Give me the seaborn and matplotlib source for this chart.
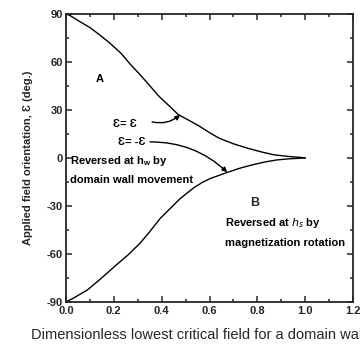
import numpy as np
import pandas as pd
import matplotlib
matplotlib.use("Agg")
import matplotlib.pyplot as plt
import seaborn as sns
from matplotlib.ticker import MultipleLocator, FormatStrFormatter

# upper branch (eps = eps_c)
upper_h = [0.0, 0.017, 0.06, 0.10, 0.14, 0.184, 0.23, 0.268, 0.31, 0.351, 0.39, 0.435,
           0.47, 0.52, 0.56, 0.60, 0.64, 0.70, 0.76, 0.82, 0.87, 0.93, 0.98, 1.0]
upper_e = [90, 89, 85, 81.5, 77, 71.7, 65.4, 58.7, 52, 45, 38.3, 32,
           27, 23, 19.6, 15.8, 12.3, 8.8, 6, 3.6, 1.9, 0.9, 0.3, 0]
# lower branch (eps = -eps_c)
lower_h = [0.0, 0.031, 0.09, 0.142, 0.21, 0.26, 0.31, 0.351, 0.393, 0.44, 0.477,
           0.533, 0.57, 0.603, 0.672, 0.728, 0.78, 0.83, 0.88, 0.93, 0.98, 1.0]
lower_e = [-90, -87.7, -82.5, -76, -67, -60.6, -53.3, -46, -38, -31, -25.5,
           -18.8, -15.3, -12.9, -9.2, -6.4, -4.3, -2.6, -1.3, -0.6, -0.2, 0]

sns.set_style("ticks")
plt.rcParams['font.family'] = ['Liberation Sans', 'DejaVu Sans']
plt.rcParams['axes.unicode_minus'] = False

fig = plt.figure(figsize=(3.6, 3.47), dpi=100)
ax = fig.add_axes([0.183, 0.130, 0.798, 0.830])

up = pd.DataFrame({"h": upper_h, "e": upper_e})
lo = pd.DataFrame({"h": lower_h, "e": lower_e})
sns.lineplot(data=up, x="h", y="e", ax=ax, color="black", lw=1.0, sort=False)
sns.lineplot(data=lo, x="h", y="e", ax=ax, color="black", lw=1.0, sort=False)

ax.set_xlim(0, 1.2)
ax.set_ylim(-90, 90)
ax.xaxis.set_major_locator(MultipleLocator(0.2))
ax.xaxis.set_minor_locator(MultipleLocator(0.1))
ax.xaxis.set_major_formatter(FormatStrFormatter("%.1f"))
ax.yaxis.set_major_locator(MultipleLocator(30))
ax.yaxis.set_minor_locator(MultipleLocator(15))
ax.tick_params(which="both", direction="in", top=True, right=True, width=1.1,
               labelsize=8, pad=2)
ax.tick_params(axis="x", which="major", pad=3)
ax.tick_params(which="major", length=4)
ax.tick_params(which="minor", length=2)
for lab in ax.get_xticklabels() + ax.get_yticklabels():
    lab.set_fontweight("bold")
for s in ax.spines.values():
    s.set_linewidth(1.3)

ax.set_xlabel("")
ax.set_ylabel("Applied field orientation, Ɛ (deg.)", fontsize=8, fontweight="bold",
              labelpad=10)
fig.text(31 / 360, 1 - 335 / 347, "Dimensionless lowest critical field for a domain wall",
         fontsize=10.5, ha="left", va="center")

tkw = dict(fontsize=8, fontweight="bold", color="black")
ax.text(0.14, 49, "A", ha="center", va="center", **tkw)
ax.text(0.245, 21.3, "Ɛ= Ɛ", ha="center", va="center", **tkw)
ax.text(0.274, 10.2, "Ɛ= -Ɛ", ha="center", va="center", **tkw)
ax.text(0.017, -2, "Reversed at h$_\\mathregular{w}$ by", ha="left", va="center", **tkw)
ax.text(0.017, -14, "domain wall movement", ha="left", va="center", **tkw)
ax.text(0.79, -28.3, "B", ha="center", va="center", fontsize=9, fontweight="bold")
ax.text(0.665, -40.8, "Reversed at $h_s$ by", ha="left", va="center", **tkw)
ax.text(0.665, -53, "magnetization rotation", ha="left", va="center", **tkw)

ax.annotate("", xy=(0.477, 26.9), xytext=(0.36, 22.5),
            arrowprops=dict(arrowstyle="-|>", color="black", lw=1,
                            mutation_scale=7, connectionstyle="arc3,rad=0.25",
                            shrinkA=0, shrinkB=0))
ax.annotate("", xy=(0.674, -9), xytext=(0.351, 10),
            arrowprops=dict(arrowstyle="-|>", color="black", lw=1,
                            mutation_scale=7, connectionstyle="arc3,rad=-0.2",
                            shrinkA=0, shrinkB=0))

fig.savefig("out.png", dpi=100)
